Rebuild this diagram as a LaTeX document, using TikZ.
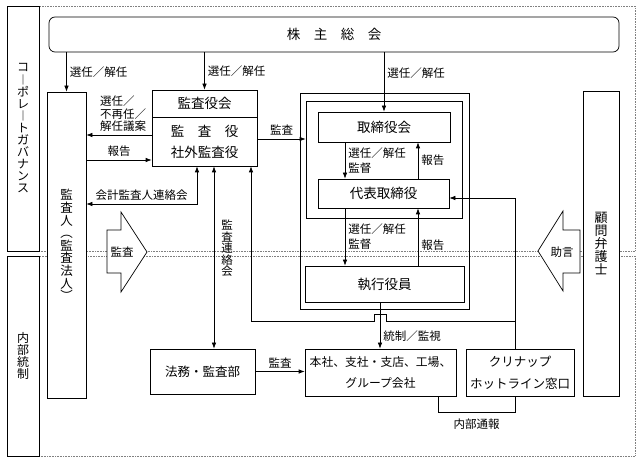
\documentclass[tikz,border=0pt]{standalone}
\usepackage{fontspec}
\setmainfont{Noto Sans CJK JP}
\usetikzlibrary{arrows.meta}

\begin{document}
\begin{tikzpicture}[x=1pt, y=-1pt, line width=0.7pt, >={Latex[length=6pt,width=4.5pt]},
    boxStyle/.style={rectangle, draw, fill=white, inner sep=0pt, align=center, font=\fontsize{13.5}{21}\selectfont},
    tallStyle/.style={rectangle, draw, fill=white, inner sep=0pt, align=center},
    frameStyle/.style={rectangle, draw, inner sep=0pt},
    areaStyle/.style={rectangle, draw=gray, line width=0.6pt, dash pattern=on 0.7pt off 0.9pt, inner sep=0pt},
    labelStyle/.style={inner sep=3pt, align=left, font=\fontsize{11.5}{15}\selectfont},
    bigArrowStyle/.style={draw, fill=white}]
    \useasboundingbox (0,0) rectangle (640,462);

    \node[areaStyle, minimum width=596, minimum height=245] (area_0) at (337,128.5) {};
    \node[areaStyle, minimum width=596, minimum height=200] (area_1) at (337,356) {};
    \node[tallStyle, minimum width=32, minimum height=245, font=\fontsize{12}{12.1}\selectfont] (side_0) at (23,128.5) {コ\\︱\\ポ\\レ\\︱\\ト\\ガ\\バ\\ナ\\ン\\ス};
    \node[tallStyle, minimum width=32, minimum height=200, font=\fontsize{12}{12}\selectfont] (side_1) at (23,356) {内\\部\\統\\制};

    \node[boxStyle, rounded corners=6pt, minimum width=570, minimum height=35] (kabu) at (334,34.5) {株　主　総　会};
    \node[tallStyle, minimum width=39, minimum height=306, font=\fontsize{12.5}{12.6}\selectfont] (kansanin) at (66.5,245) {監\\査\\人\\︵\\監\\査\\法\\人\\︶};
    \node[boxStyle, minimum width=105, minimum height=27] (kansa_kai) at (204.5,103.5) {監査役会};
    \node[boxStyle, minimum width=105, minimum height=49] (kansa_yaku) at (204.5,141.5) {監　査　役\\社外監査役};
    \node[frameStyle, minimum width=169, minimum height=216] (frame_0) at (384.5,201) {};
    \node[frameStyle, minimum width=156, minimum height=117] (frame_1) at (384,159.5) {};
    \node[boxStyle, minimum width=132, minimum height=30] (tori_kai) at (384,127) {取締役会};
    \node[boxStyle, minimum width=131, minimum height=29] (daihyo) at (383.5,193.5) {代表取締役};
    \node[boxStyle, minimum width=159, minimum height=36] (shikko) at (384.5,284) {執行役員};
    \node[boxStyle, minimum width=105, minimum height=45, font=\fontsize{12.5}{21}\selectfont] (homu) at (202.5,371.5) {法務・監査部};
    \node[boxStyle, minimum width=151, minimum height=47, font=\fontsize{11.8}{21}\selectfont] (honsha) at (380.5,372.5) {本社、支社・支店、工場、\\グループ会社};
    \node[boxStyle, minimum width=108, minimum height=47, font=\fontsize{12.5}{22}\selectfont] (hotline) at (520,372.5) {クリナップ\\ホットライン窓口};
    \node[tallStyle, minimum width=36, minimum height=305, font=\fontsize{13}{13}\selectfont] (komon) at (601,243.5) {顧\\問\\弁\\護\\士};

    \draw[bigArrowStyle] (107,230) -- (121,230) -- (121,212) -- (147,252) -- (121,292) -- (121,273) -- (107,273) -- cycle;
    \node[labelStyle] (audit_mark) at (122,252) {監査};
    \draw[bigArrowStyle] (580,230) -- (563,230) -- (563,211) -- (538,251) -- (563,291) -- (563,273) -- (580,273) -- cycle;
    \node[labelStyle] (advice_mark) at (562,252) {助言};

    \coordinate (row_1) at (0,135);
    \coordinate (row_2) at (0,160);
    \coordinate (row_3) at (0,139);
    \coordinate (row_4) at (0,204);
    \coordinate (row_5) at (0,198);
    \coordinate (row_6) at (0,321);
    \coordinate (row_7) at (0,412);
    \coordinate (col_1) at (197,0);
    \coordinate (col_2) at (214,0);
    \coordinate (col_3) at (251,0);
    \coordinate (col_4) at (345,0);
    \coordinate (col_5) at (418,0);
    \coordinate (col_6) at (380,0);
    \coordinate (col_7) at (515,0);
    \coordinate (col_8) at (438,0);
    \coordinate (hop) at (386,321);

    \draw[->] (kabu.south -| kansanin.north) -- node[labelStyle, right] {選任／解任} (kansanin.north);
    \draw[->] (kabu.south -| kansa_kai.north) -- node[labelStyle, right] {選任／解任} (kansa_kai.north);
    \draw[->] (kabu.south -| tori_kai.north) -- node[labelStyle, right, pos=0.35] {選任／解任} (tori_kai.north);

    \draw[->] (kansa_yaku.west |- row_1) -- node[labelStyle, above, xshift=4, font=\fontsize{11.5}{12.6}\selectfont] {選任／\\不再任／\\解任議案} (kansanin.east |- row_1);
    \draw[->] (kansanin.east |- row_2) -- node[labelStyle, above] {報告} (kansa_yaku.west |- row_2);
    \draw[<->] (kansanin.east |- row_4) -- node[labelStyle, above] {会計監査人連絡会} (col_1 |- row_4) -- (kansa_yaku.south -| col_1);
    \draw[<->] (kansa_yaku.south -| col_2) -- node[labelStyle, right, pos=0.45, xshift=4, align=center, font=\fontsize{11.5}{11.5}\selectfont] {監\\査\\連\\絡\\会} (homu.north -| col_2);
    \draw[->] (kansa_yaku.east |- row_3) -- node[labelStyle, above] {監査} (frame_1.west |- row_3);

    \draw[->] (tori_kai.south -| col_4) -- node[labelStyle, right] {選任／解任\\監督} (daihyo.north -| col_4);
    \draw[->] (daihyo.north -| col_5) -- node[labelStyle, right] {報告} (tori_kai.south -| col_5);
    \draw[->] (daihyo.south -| col_4) -- node[labelStyle, right] {選任／解任\\監督} (shikko.north -| col_4);
    \draw[->] (shikko.north -| col_5) -- node[labelStyle, right, pos=0.35] {報告} (daihyo.south -| col_5);
    \draw[->] (shikko.south -| col_6) -- node[labelStyle, right, pos=0.72] {統制／監視} (honsha.north -| col_6);
    \draw[->] (homu.east) -- node[labelStyle, above] {監査} (homu.east -| honsha.west);

    \draw[->] (hotline.north -| col_7) -- (col_7 |- row_5) -- (daihyo.east |- row_5);
    \draw[->] (col_7 |- row_6) -- (hop) -- ++(0,-7) -- ++(-12,0) -- ++(0,7) -- (col_3 |- row_6) -- (kansa_yaku.south -| col_3);
    \draw (honsha.south -| col_8) -- (col_8 |- row_7) -- node[labelStyle, below, yshift=-3] {内部通報} (col_7 |- row_7) -- (hotline.south -| col_7);
\end{tikzpicture}
\end{document}
